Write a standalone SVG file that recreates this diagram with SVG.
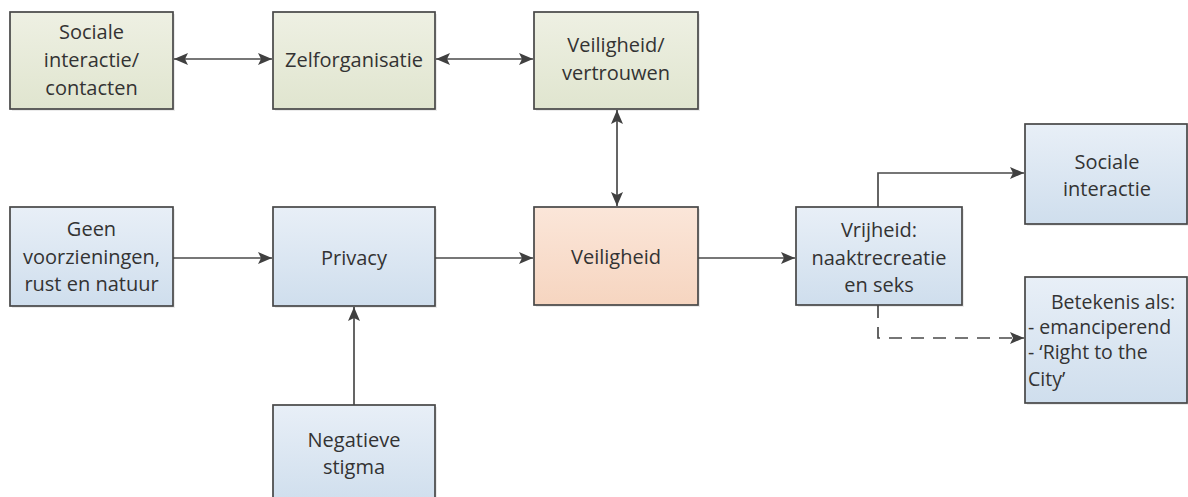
<svg xmlns="http://www.w3.org/2000/svg" width="1188" height="497" viewBox="0 0 1188 497">
  <defs>
    <linearGradient id="gGreen" x1="0" y1="0" x2="0" y2="1">
      <stop offset="0" stop-color="#eef0e3"/>
      <stop offset="1" stop-color="#e0e5cf"/>
    </linearGradient>
    <linearGradient id="gBlue" x1="0" y1="0" x2="0" y2="1">
      <stop offset="0" stop-color="#e8eff7"/>
      <stop offset="1" stop-color="#cfdeed"/>
    </linearGradient>
    <linearGradient id="gOrange" x1="0" y1="0" x2="0" y2="1">
      <stop offset="0" stop-color="#fbe6d9"/>
      <stop offset="1" stop-color="#f6d5c0"/>
    </linearGradient>
    <marker id="arr" markerUnits="userSpaceOnUse" markerWidth="16" markerHeight="16" viewBox="0 0 16 16" refX="15" refY="8" orient="auto-start-reverse">
      <path d="M1,2 L15,8 L1,14 L4,8 Z" fill="#404040"/>
    </marker>
    <style>
      .box { stroke: #474747; stroke-width: 1.7; }
      .shadow { fill: #000; opacity: 0.08; }
      .green { fill: url(#gGreen); }
      .blue { fill: url(#gBlue); }
      .orange { fill: url(#gOrange); }
      text { font-family: "Open Sans", "Noto Sans", sans-serif; font-size: 20px; fill: #333333; }
      .c { text-anchor: middle; }
      .conn { fill: none; stroke: #4a4a4a; stroke-width: 1.7; }
      .dash { stroke-dasharray: 13 9; }
      .small { font-size: 19.5px; }
    </style>
  </defs>

  <rect width="1188" height="497" fill="#ffffff"/>

  <g id="connectors">
    <line class="conn" x1="174" y1="59" x2="272" y2="59" marker-start="url(#arr)" marker-end="url(#arr)"/>
    <line class="conn" x1="436" y1="59" x2="533" y2="59" marker-start="url(#arr)" marker-end="url(#arr)"/>
    <line class="conn" x1="617" y1="110" x2="617" y2="206" marker-start="url(#arr)" marker-end="url(#arr)"/>
    <line class="conn" x1="173" y1="258" x2="272" y2="258" marker-end="url(#arr)"/>
    <line class="conn" x1="435" y1="258" x2="533" y2="258" marker-end="url(#arr)"/>
    <line class="conn" x1="698" y1="258" x2="795" y2="258" marker-end="url(#arr)"/>
    <path class="conn" d="M878,207 V173 H1024" marker-end="url(#arr)"/>
    <path class="conn dash" d="M878,305 V338 H1024" marker-end="url(#arr)"/>
    <line class="conn" x1="354" y1="405" x2="354" y2="307" marker-end="url(#arr)"/>
  </g>

  <g id="node-sociale-interactie-contacten">
    <rect class="shadow" x="12" y="14" width="163" height="97"/>
    <rect class="box green" x="10" y="12" width="163" height="97"/>
    <text class="c" x="91.5" y="39">Sociale</text>
    <text class="c" x="91.5" y="67">interactie/</text>
    <text class="c" x="91.5" y="95">contacten</text>
  </g>

  <g id="node-zelforganisatie">
    <rect class="shadow" x="275" y="14" width="162" height="97"/>
    <rect class="box green" x="273" y="12" width="162" height="97"/>
    <text class="c" x="354" y="67">Zelforganisatie</text>
  </g>

  <g id="node-veiligheid-vertrouwen">
    <rect class="shadow" x="536" y="14" width="164" height="97"/>
    <rect class="box green" x="534" y="12" width="164" height="97"/>
    <text class="c" x="616" y="52">Veiligheid/</text>
    <text class="c" x="616" y="80">vertrouwen</text>
  </g>

  <g id="node-geen-voorzieningen">
    <rect class="shadow" x="12" y="209" width="163" height="99"/>
    <rect class="box blue" x="10" y="207" width="163" height="99"/>
    <text class="c" x="91.5" y="236">Geen</text>
    <text class="c" x="91.5" y="264">voorzieningen,</text>
    <text class="c" x="91.5" y="291">rust en natuur</text>
  </g>

  <g id="node-privacy">
    <rect class="shadow" x="275" y="209" width="162" height="99"/>
    <rect class="box blue" x="273" y="207" width="162" height="99"/>
    <text class="c" x="354" y="265">Privacy</text>
  </g>

  <g id="node-veiligheid">
    <rect class="shadow" x="536" y="209" width="164" height="98"/>
    <rect class="box orange" x="534" y="207" width="164" height="98"/>
    <text class="c" x="616" y="264">Veiligheid</text>
  </g>

  <g id="node-vrijheid">
    <rect class="shadow" x="798" y="209" width="166" height="98"/>
    <rect class="box blue" x="796" y="207" width="166" height="98"/>
    <text class="c" x="879" y="237">Vrijheid:</text>
    <text class="c" x="879" y="265">naaktrecreatie</text>
    <text class="c" x="879" y="292">en seks</text>
  </g>

  <g id="node-sociale-interactie">
    <rect class="shadow" x="1027" y="126" width="162" height="100"/>
    <rect class="box blue" x="1025" y="124" width="162" height="100"/>
    <text class="c" x="1107" y="169">Sociale</text>
    <text class="c" x="1107" y="196">interactie</text>
  </g>

  <g id="node-betekenis">
    <rect class="shadow" x="1027" y="279" width="162" height="126"/>
    <rect class="box blue" x="1025" y="277" width="162" height="126"/>
    <text class="c small" x="1113" y="309">Betekenis als:</text>
    <text class="small" x="1028" y="334">- emanciperend</text>
    <text class="small" x="1028" y="359">- ‘Right to the</text>
    <text class="small" x="1028" y="386">City’</text>
  </g>

  <g id="node-negatieve-stigma">
    <rect class="shadow" x="275" y="407" width="162" height="100"/>
    <rect class="box blue" x="273" y="405" width="162" height="100"/>
    <text class="c" x="354" y="447">Negatieve</text>
    <text class="c" x="354" y="474">stigma</text>
  </g>
</svg>
